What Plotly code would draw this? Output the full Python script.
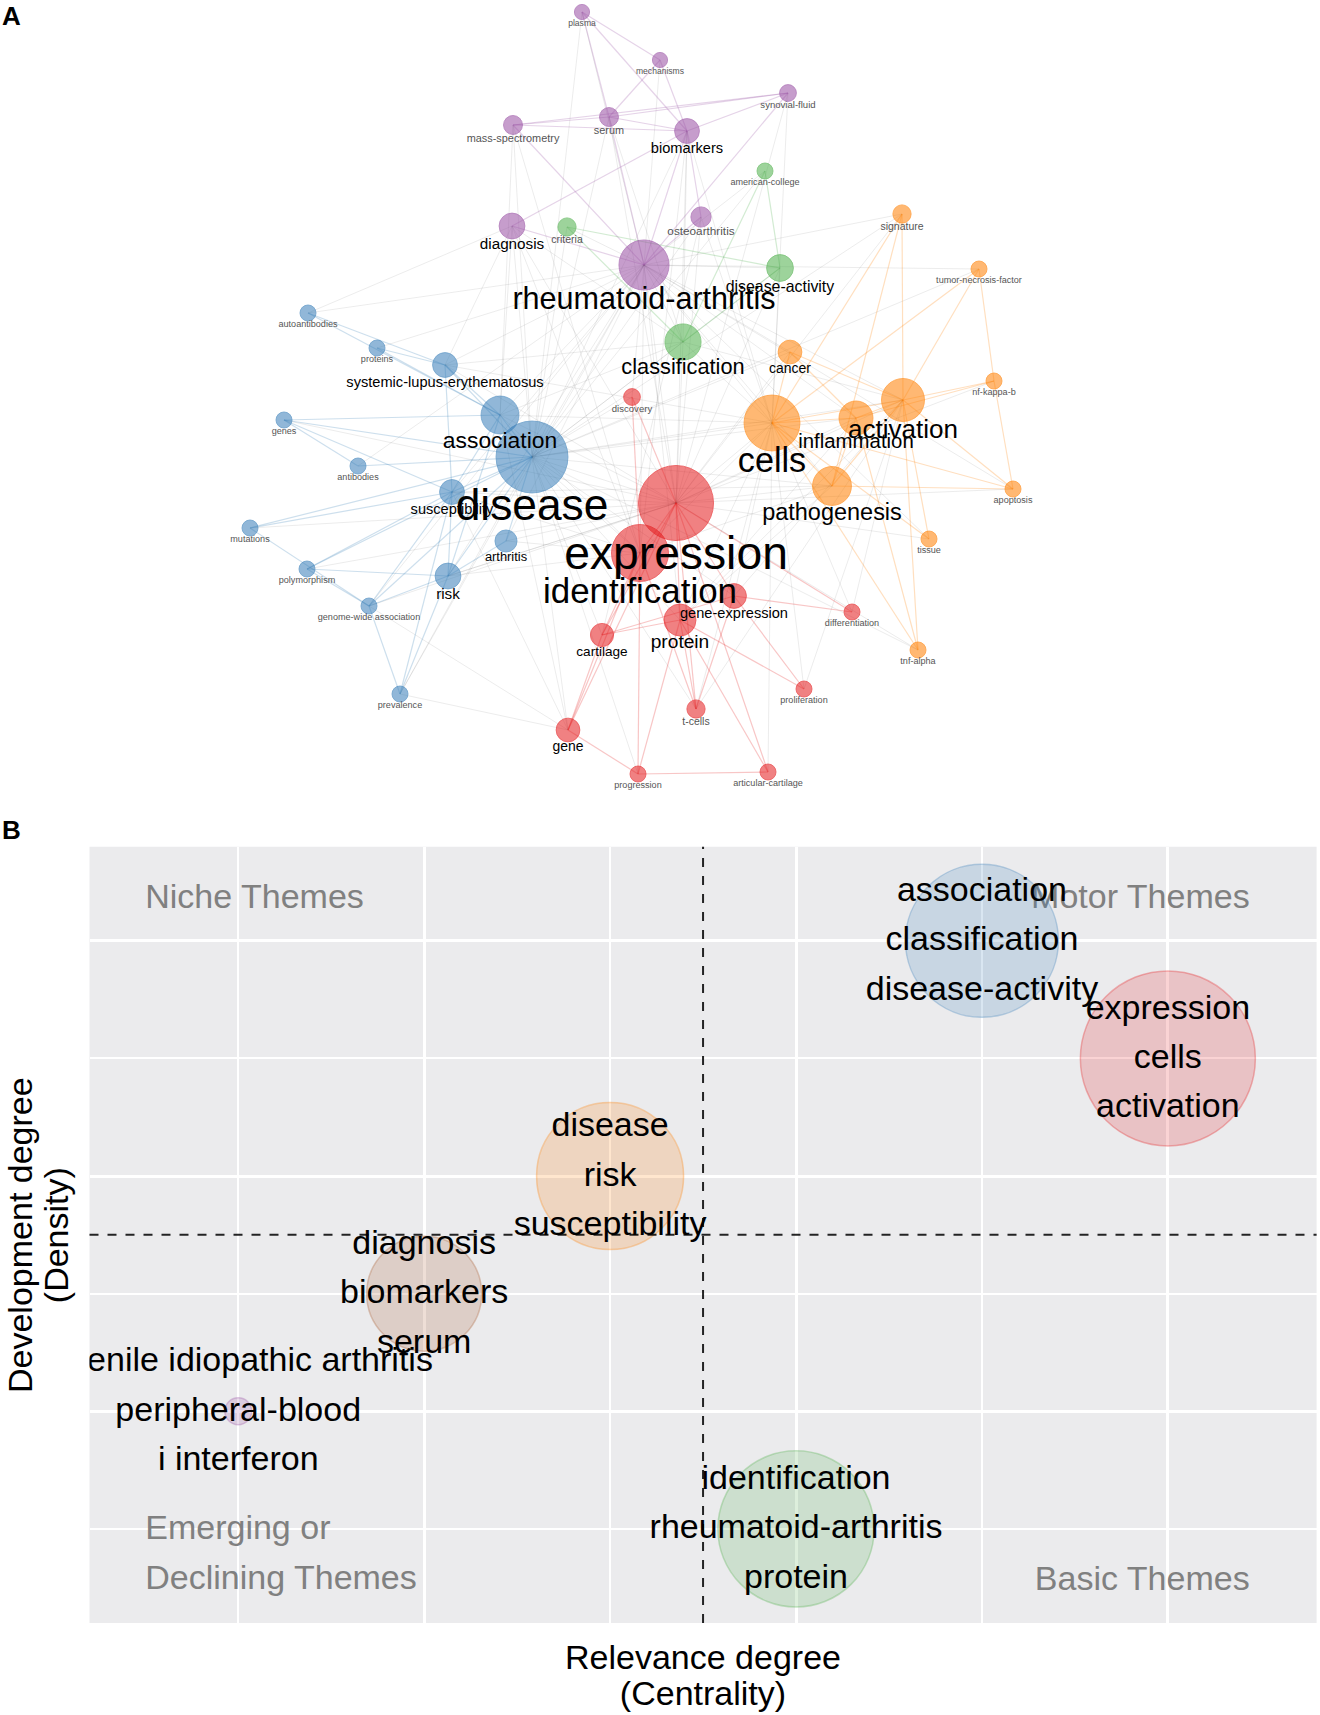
import math
import plotly.graph_objects as go

# ---------------- panel A: keyword co-occurrence network ----------------
node_names = [
    'plasma', 'mechanisms', 'synovial-fluid', 'mass-spectrometry', 'serum', 'biomarkers',
    'osteoarthritis', 'diagnosis', 'rheumatoid-arthritis',
    'american-college', 'criteria', 'disease-activity', 'classification',
    'signature', 'tumor-necrosis-factor', 'cancer', 'nf-kappa-b', 'activation', 'inflammation',
    'cells', 'pathogenesis', 'apoptosis', 'tissue', 'tnf-alpha',
    'discovery', 'expression', 'identification', 'gene-expression', 'protein', 'cartilage',
    'differentiation', 'gene', 't-cells', 'proliferation', 'progression', 'articular-cartilage',
    'autoantibodies', 'proteins', 'systemic-lupus-erythematosus', 'genes', 'association', 'disease',
    'antibodies', 'susceptibility', 'mutations', 'arthritis', 'polymorphism', 'risk',
    'genome-wide association', 'prevalence',
]
node_x = [
    582, 660, 788, 513, 609, 687, 701, 512, 644,
    765, 567, 780, 683,
    902, 979, 790, 994, 903, 856, 772, 832, 1013, 929, 918,
    632, 676, 640, 734, 680, 602, 852, 568, 696, 804, 638, 768,
    308, 377, 445, 284, 500, 532, 358, 452, 250, 506, 307, 448, 369, 400,
]
node_y = [
    12, 60, 93, 125, 117, 131, 217, 226, 265,
    171, 227, 268, 342,
    214, 269, 352, 381, 400, 418, 423, 486, 489, 539, 650,
    397, 503, 553, 596, 620, 635, 612, 730, 709, 689, 774, 772,
    313, 348, 365, 420, 415, 457, 466, 492, 528, 541, 569, 576, 606, 694,
]
node_occ = [
    9, 9, 11, 14, 14, 24, 16, 26, 98,
    10, 13, 28, 51,
    13, 10, 22, 10, 72, 45, 122, 59, 10, 10, 10,
    11, 220, 127, 24, 40, 21, 10, 22, 13, 10, 10, 10,
    10, 10, 24, 10, 56, 202, 10, 24, 10, 19, 10, 26, 10, 10,
]
node_cluster = (['purple'] * 9 + ['green'] * 4 + ['orange'] * 11
                + ['red'] * 12 + ['blue'] * 14)

cluster_edges = {
    'purple': [
        ('plasma', 'serum'), ('plasma', 'mechanisms'), ('plasma', 'biomarkers'),
        ('mass-spectrometry', 'serum'), ('mass-spectrometry', 'biomarkers'),
        ('mass-spectrometry', 'synovial-fluid'), ('serum', 'biomarkers'),
        ('serum', 'synovial-fluid'), ('serum', 'rheumatoid-arthritis'),
        ('biomarkers', 'rheumatoid-arthritis'), ('mechanisms', 'biomarkers'),
        ('mechanisms', 'serum'), ('synovial-fluid', 'biomarkers'),
        ('synovial-fluid', 'rheumatoid-arthritis'), ('diagnosis', 'biomarkers'),
        ('diagnosis', 'rheumatoid-arthritis'), ('osteoarthritis', 'rheumatoid-arthritis'),
        ('osteoarthritis', 'biomarkers'), ('mass-spectrometry', 'rheumatoid-arthritis'),
    ],
    'green': [
        ('criteria', 'classification'), ('disease-activity', 'classification'),
        ('criteria', 'disease-activity'), ('american-college', 'classification'),
        ('american-college', 'disease-activity'),
    ],
    'orange': [
        ('cells', 'activation'), ('cells', 'inflammation'), ('cells', 'pathogenesis'),
        ('activation', 'inflammation'), ('activation', 'nf-kappa-b'), ('inflammation', 'nf-kappa-b'),
        ('activation', 'apoptosis'), ('pathogenesis', 'apoptosis'), ('pathogenesis', 'activation'),
        ('cancer', 'cells'), ('cancer', 'activation'), ('cancer', 'inflammation'),
        ('signature', 'cells'), ('signature', 'activation'), ('signature', 'pathogenesis'),
        ('tumor-necrosis-factor', 'cells'), ('tumor-necrosis-factor', 'activation'),
        ('tumor-necrosis-factor', 'nf-kappa-b'), ('tnf-alpha', 'activation'),
        ('tnf-alpha', 'inflammation'), ('tnf-alpha', 'cells'), ('tissue', 'activation'),
        ('tissue', 'cells'), ('nf-kappa-b', 'apoptosis'), ('inflammation', 'pathogenesis'),
        ('cells', 'apoptosis'),
    ],
    'red': [
        ('expression', 'identification'), ('expression', 'gene-expression'), ('expression', 'protein'),
        ('expression', 'discovery'), ('identification', 'discovery'), ('identification', 'gene'),
        ('identification', 'cartilage'), ('expression', 'cartilage'), ('expression', 'gene'),
        ('expression', 't-cells'), ('protein', 't-cells'), ('protein', 'articular-cartilage'),
        ('gene-expression', 'differentiation'), ('gene-expression', 'proliferation'),
        ('expression', 'differentiation'), ('progression', 'articular-cartilage'),
        ('progression', 'identification'), ('progression', 'protein'), ('progression', 'gene'),
        ('cartilage', 'gene-expression'), ('cartilage', 'protein'), ('protein', 'proliferation'),
        ('identification', 't-cells'), ('expression', 'articular-cartilage'),
        ('gene-expression', 't-cells'), ('cartilage', 'gene'),
    ],
    'blue': [
        ('disease', 'association'), ('disease', 'systemic-lupus-erythematosus'),
        ('disease', 'susceptibility'), ('disease', 'risk'), ('disease', 'arthritis'),
        ('disease', 'genes'), ('disease', 'antibodies'), ('disease', 'mutations'),
        ('disease', 'genome-wide association'), ('disease', 'polymorphism'),
        ('association', 'systemic-lupus-erythematosus'), ('association', 'proteins'),
        ('association', 'autoantibodies'), ('association', 'genes'), ('association', 'susceptibility'),
        ('association', 'risk'), ('susceptibility', 'genome-wide association'),
        ('risk', 'genome-wide association'), ('risk', 'prevalence'), ('susceptibility', 'prevalence'),
        ('polymorphism', 'genome-wide association'), ('polymorphism', 'susceptibility'),
        ('mutations', 'genome-wide association'), ('systemic-lupus-erythematosus', 'proteins'),
        ('autoantibodies', 'systemic-lupus-erythematosus'), ('risk', 'polymorphism'),
        ('susceptibility', 'systemic-lupus-erythematosus'), ('genes', 'antibodies'),
        ('risk', 'susceptibility'), ('mutations', 'susceptibility'), ('arthritis', 'risk'),
        ('prevalence', 'genome-wide association'), ('genes', 'susceptibility'),
    ],
}

cross_edges = [
    ('disease', 'expression'), ('disease', 'cells'), ('disease', 'rheumatoid-arthritis'),
    ('disease', 'classification'), ('disease', 'identification'), ('disease', 'activation'),
    ('disease', 'inflammation'), ('disease', 'pathogenesis'), ('disease', 'diagnosis'),
    ('disease', 'biomarkers'), ('disease', 'protein'), ('disease', 'gene-expression'),
    ('disease', 'disease-activity'), ('expression', 'cells'), ('expression', 'rheumatoid-arthritis'),
    ('expression', 'association'), ('expression', 'activation'), ('expression', 'inflammation'),
    ('expression', 'pathogenesis'), ('expression', 'classification'), ('expression', 'susceptibility'),
    ('expression', 'arthritis'), ('expression', 'risk'), ('identification', 'cells'),
    ('identification', 'rheumatoid-arthritis'), ('identification', 'association'),
    ('identification', 'susceptibility'), ('identification', 'risk'), ('identification', 'biomarkers'),
    ('rheumatoid-arthritis', 'cells'), ('rheumatoid-arthritis', 'association'),
    ('rheumatoid-arthritis', 'classification'), ('rheumatoid-arthritis', 'systemic-lupus-erythematosus'),
    ('rheumatoid-arthritis', 'activation'), ('rheumatoid-arthritis', 'pathogenesis'),
    ('rheumatoid-arthritis', 'inflammation'), ('rheumatoid-arthritis', 'susceptibility'),
    ('rheumatoid-arthritis', 'risk'), ('rheumatoid-arthritis', 'protein'),
    ('rheumatoid-arthritis', 'cancer'), ('rheumatoid-arthritis', 'disease-activity'),
    ('rheumatoid-arthritis', 'criteria'), ('cells', 'association'), ('cells', 'classification'),
    ('cells', 'protein'), ('cells', 'gene-expression'), ('cells', 't-cells'),
    ('cells', 'differentiation'), ('cells', 'proliferation'), ('classification', 'association'),
    ('classification', 'systemic-lupus-erythematosus'), ('classification', 'diagnosis'),
    ('classification', 'activation'), ('classification', 'biomarkers'), ('activation', 'protein'),
    ('activation', 'gene-expression'), ('activation', 't-cells'), ('inflammation', 'protein'),
    ('pathogenesis', 'protein'), ('pathogenesis', 'identification'), ('pathogenesis', 'susceptibility'),
    ('diagnosis', 'association'), ('diagnosis', 'systemic-lupus-erythematosus'),
    ('mass-spectrometry', 'association'), ('mass-spectrometry', 'disease'), ('serum', 'disease'),
    ('serum', 'classification'), ('osteoarthritis', 'cells'), ('osteoarthritis', 'expression'),
    ('osteoarthritis', 'cartilage'), ('american-college', 'rheumatoid-arthritis'),
    ('american-college', 'disease'), ('signature', 'expression'), ('signature', 'rheumatoid-arthritis'),
    ('tumor-necrosis-factor', 'rheumatoid-arthritis'), ('tumor-necrosis-factor', 'disease'),
    ('nf-kappa-b', 'expression'), ('apoptosis', 'expression'), ('tissue', 'expression'),
    ('tnf-alpha', 'expression'), ('tnf-alpha', 'disease'), ('discovery', 'disease'),
    ('discovery', 'rheumatoid-arthritis'), ('gene', 'disease'), ('gene', 'association'),
    ('gene', 'susceptibility'), ('gene', 'genome-wide association'), ('prevalence', 'rheumatoid-arthritis'),
    ('prevalence', 'disease'), ('prevalence', 'gene'), ('genes', 'expression'), ('mutations', 'expression'),
    ('antibodies', 'rheumatoid-arthritis'), ('autoantibodies', 'rheumatoid-arthritis'),
    ('autoantibodies', 'diagnosis'), ('proteins', 'rheumatoid-arthritis'), ('polymorphism', 'expression'),
    ('systemic-lupus-erythematosus', 'expression'), ('systemic-lupus-erythematosus', 'cells'),
    ('articular-cartilage', 'cells'), ('progression', 'disease'), ('proliferation', 'activation'),
    ('differentiation', 'activation'), ('t-cells', 'disease'), ('cartilage', 'disease'),
    ('mass-spectrometry', 'identification'), ('biomarkers', 'expression'), ('biomarkers', 'cells'),
    ('diagnosis', 'expression'), ('diagnosis', 'identification'), ('criteria', 'disease'),
    ('disease-activity', 'expression'), ('disease-activity', 'cells'), ('cancer', 'expression'),
    ('cancer', 'disease'), ('arthritis', 'rheumatoid-arthritis'), ('arthritis', 'identification'),
    ('risk', 'expression'), ('genome-wide association', 'expression'),
    ('genome-wide association', 'rheumatoid-arthritis'), ('serum', 'expression'),
    ('plasma', 'rheumatoid-arthritis'), ('plasma', 'disease'), ('mechanisms', 'rheumatoid-arthritis'),
    ('synovial-fluid', 'expression'), ('synovial-fluid', 'cells'), ('osteoarthritis', 'disease'),
    ('signature', 'disease'), ('tissue', 'rheumatoid-arthritis'), ('apoptosis', 'rheumatoid-arthritis'),
]

# ---------------- panel B: thematic map ----------------
theme_words = [
    ['association', 'classification', 'disease-activity'],
    ['expression', 'cells', 'activation'],
    ['disease', 'risk', 'susceptibility'],
    ['diagnosis', 'biomarkers', 'serum'],
    ['juvenile idiopathic arthritis', 'peripheral-blood', 'i interferon'],
    ['identification', 'rheumatoid-arthritis', 'protein'],
]
theme_centrality = [5, 6, 3, 2, 1, 4]
theme_density = [6, 5, 4, 3, 2, 1]
theme_freq = [1170, 1530, 1080, 660, 36, 1220]
theme_cluster = ['blue', 'red', 'orange', 'brown', 'purple', 'green']

quadrant_labels = ['Niche Themes', 'Motor Themes', 'Emerging or<br>Declining Themes', 'Basic Themes']

SET1 = {'red': (228, 26, 28), 'blue': (55, 126, 184), 'green': (77, 175, 74),
        'purple': (152, 78, 163), 'orange': (255, 127, 0), 'brown': (166, 86, 40)}
FONT = 'Liberation Sans, Arial, sans-serif'
W, H = 1320, 1715
NET_H = 800


def rgba(name, a):
    r, g, b = SET1[name]
    return f'rgba({r},{g},{b},{a})'


def span(text, size):
    return '<br>'.join(f"<span style='font-size:{size}px'>{t}</span>" for t in text.split('<br>'))


def edge_trace(pairs, color, width):
    pos = dict(zip(node_names, zip(node_x, node_y)))
    xs, ys = [], []
    for a, b in pairs:
        xs += [pos[a][0], pos[b][0], None]
        ys += [pos[a][1], pos[b][1], None]
    return go.Scatter(x=xs, y=ys, mode='lines', line=dict(color=color, width=width),
                      hoverinfo='skip', showlegend=False, xaxis='x2', yaxis='y2')


def add_network(fig):
    fig.add_trace(edge_trace(cross_edges, 'rgba(110,110,110,0.13)', 1))
    for name, pairs in cluster_edges.items():
        fig.add_trace(edge_trace(pairs, rgba(name, 0.25), 1.2))

    sizeref = 2 * 10 / 16 ** 2
    fig.add_trace(go.Scatter(
        x=node_x, y=node_y, mode='markers', hoverinfo='text', text=node_names,
        marker=dict(size=node_occ, sizemode='area', sizeref=sizeref,
                    color=[rgba(c, 0.78) for c in node_cluster],
                    line=dict(width=1, color=[rgba(c, 0.85) for c in node_cluster])),
        showlegend=False, cliponaxis=False, xaxis='x2', yaxis='y2'))

    # labels sit under the nodes, bigger words drawn last
    order = sorted(range(len(node_names)), key=lambda i: node_occ[i])
    occ = [node_occ[i] for i in order]
    fsize = [0.63 * 16 * math.sqrt(o / 10) - 1 for o in occ]
    fig.add_trace(go.Scatter(
        x=[node_x[i] for i in order], y=[node_y[i] for i in order],
        mode='markers+text', text=[node_names[i] for i in order],
        textposition='bottom center', hoverinfo='skip',
        marker=dict(size=occ, sizemode='area', sizeref=sizeref / 0.42,
                    color='rgba(0,0,0,0)', line=dict(width=0)),
        textfont=dict(family=FONT, size=fsize,
                      color=['#000000' if f >= 12 else '#555555' for f in fsize]),
        showlegend=False, cliponaxis=False, xaxis='x2', yaxis='y2'))


def add_thematic_map(fig):
    fig.add_shape(type='rect', xref='x domain', yref='y domain', x0=0, x1=1, y0=0, y1=1,
                  fillcolor='#EBEBED', line=dict(width=0), layer='below')

    # quadrant names go under the bubbles
    fig.add_trace(go.Scatter(
        x=[0.5, 6.44, 0.5, 6.44], y=[6.35, 6.35, 0.78, 0.55], mode='text',
        text=[span(t, 34) for t in quadrant_labels],
        textposition=['middle right', 'middle left', 'middle right', 'middle left'],
        textfont=dict(family=FONT, size=[34, 34, 38.5, 34], color='#808080'),
        hoverinfo='skip', showlegend=False))

    fig.add_trace(go.Scatter(
        x=theme_centrality, y=theme_density, mode='markers',
        marker=dict(size=theme_freq, sizemode='area', sizeref=2 * max(theme_freq) / 175 ** 2,
                    color=[rgba(c, 0.27) for c in theme_cluster],
                    line=dict(width=1.5, color=[rgba(c, 0.45) for c in theme_cluster])),
        hoverinfo='skip', showlegend=False))

    fig.add_trace(go.Scatter(
        x=theme_centrality, y=theme_density, mode='text',
        text=[span('<br>'.join(w), 34) for w in theme_words],
        textposition='middle center', cliponaxis=True,
        textfont=dict(family=FONT, size=38, color='black'),
        hoverinfo='skip', showlegend=False))

    mean_c = sum(theme_centrality) / len(theme_centrality)
    mean_d = sum(theme_density) / len(theme_density)
    dash = dict(color='rgba(0,0,0,0.85)', width=2, dash='9px,9px')
    fig.add_shape(type='line', xref='x', yref='y domain', x0=mean_c, x1=mean_c, y0=0, y1=1, line=dash)
    fig.add_shape(type='line', xref='x domain', yref='y', x0=0, x1=1, y0=mean_d, y1=mean_d, line=dash)


def main():
    fig = go.Figure()
    add_network(fig)
    add_thematic_map(fig)

    grid = dict(range=[0.2, 6.8], tickvals=[2, 4, 6], showticklabels=False, ticks='',
                showgrid=True, gridcolor='white', gridwidth=3, zeroline=False, showline=False,
                minor=dict(tickvals=[1, 3, 5], showgrid=True, gridcolor='white', gridwidth=2))
    fig.update_layout(
        width=W, height=H, autosize=False,
        margin=dict(l=0, r=0, t=0, b=0),
        paper_bgcolor='white', plot_bgcolor='white',
        font=dict(family=FONT, color='black'),
        xaxis=dict(domain=[89.5 / W, 1316.6 / W], **grid),
        yaxis=dict(domain=[1 - 1623 / H, 1 - 846.7 / H], **grid),
        xaxis2=dict(domain=[0, 1], range=[0, W], visible=False, anchor='y2'),
        yaxis2=dict(domain=[1 - NET_H / H, 1], range=[NET_H, 0], visible=False, anchor='x2'),
    )
    title_font = dict(family=FONT, size=27.7, color='black')
    fig.add_annotation(xref='paper', yref='paper', x=703 / W, y=1 - 1675 / H,
                       text=span('Relevance degree<br>(Centrality)', 34), showarrow=False,
                       font=title_font, xanchor='center', yanchor='middle')
    fig.add_annotation(xref='paper', yref='paper', x=38 / W, y=1 - 1235 / H, textangle=-90,
                       text=span('Development degree<br>(Density)', 34), showarrow=False,
                       font=title_font, xanchor='center', yanchor='middle')
    for label, ypix in (('A', 16), ('B', 830)):
        fig.add_annotation(xref='paper', yref='paper', x=0, y=1 - ypix / H, text=f'<b>{label}</b>',
                           showarrow=False, xanchor='left', yanchor='middle',
                           font=dict(family=FONT, size=26, color='black'))

    # the page's default body margin would push the figure off the window
    fig.write_html('out.html', config={'displayModeBar': False},
                   post_script="document.body.style.margin='0';")


if __name__ == '__main__':
    main()
